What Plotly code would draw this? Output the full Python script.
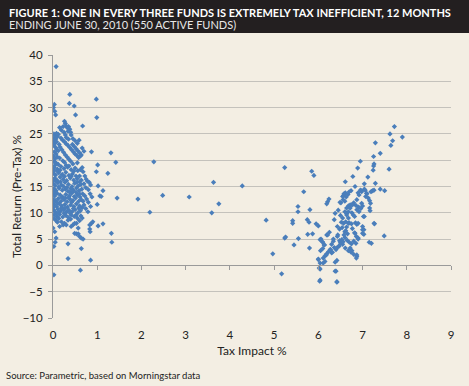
import plotly.graph_objects as go

# ---- data: (tax impact %, total return pre-tax %) ----
low_tax_impact = [
    0.07, 0.38, 0.98, 0.37, 0.48, 0.03, 0.01, 0.04, 0.06, 0.51, 0.99, 0.67,
    0.26, 0.28, 0.30, 0.23, 0.32, 0.35, 0.38, 0.15, 0.19, 0.25, 0.34, 0.40, 0.41, 0.28, 0.59,
    0.02, 0.05, 0.08, 0.03, 0.06, 0.10, 0.01, 0.04, 0.08, 0.12, 0.02, 0.06, 0.09, 0.03, 0.07,
    0.01, 0.05, 0.10, 0.02, 0.08, 0.04, 0.12, 0.14, 0.16,
    0.18, 0.22, 0.26, 0.30, 0.34, 0.38, 0.42, 0.46, 0.50, 0.54, 0.58, 0.62, 0.20, 0.24, 0.28,
    0.32, 0.36, 0.40, 0.44, 0.48, 0.52, 0.56, 0.60, 0.64, 0.30, 0.35, 0.45, 0.50, 0.55, 0.66,
    0.70, 0.87, 0.26, 0.22, 0.15, 0.45, 0.55,
    1.01, 0.98, 1.24, 1.31, 1.42, 1.02, 1.13, 1.06, 1.00, 1.45, 1.09, 0.87, 0.90, 0.83, 1.02,
    1.13, 0.83, 1.32, 1.33, 0.84,
    0.72, 0.75, 0.78, 0.82, 0.85, 0.70, 0.74, 0.80, 0.84, 0.88, 0.72, 0.76, 0.80, 0.85, 0.70,
    0.74, 0.79, 0.68, 0.66, 0.62, 0.60, 0.64,
    0.03, 0.10, 0.18, 0.25, 0.33, 0.41, 0.50, 0.56,
    0.01, 0.06, 0.13, 0.21, 0.29, 0.36, 0.44, 0.52,
    0.04, 0.09, 0.16, 0.23, 0.31, 0.39, 0.47, 0.55, 0.60,
    0.00, 0.05, 0.11, 0.19, 0.27, 0.35, 0.43, 0.49, 0.57, 0.63,
    0.02, 0.07, 0.14, 0.21, 0.28, 0.34, 0.40, 0.46, 0.53, 0.59, 0.65,
    0.01, 0.04, 0.09, 0.16, 0.22, 0.29, 0.37, 0.42, 0.48, 0.55, 0.61, 0.67,
    0.00, 0.06, 0.12, 0.18, 0.25, 0.32, 0.38, 0.45, 0.51, 0.58, 0.64,
    0.03, 0.08, 0.14, 0.20, 0.27, 0.33, 0.40, 0.47, 0.53, 0.60, 0.66,
    0.01, 0.05, 0.11, 0.17, 0.24, 0.30, 0.36, 0.43, 0.50, 0.56, 0.62,
    0.02, 0.09, 0.15, 0.22, 0.29, 0.35, 0.41, 0.48, 0.55, 0.63,
    0.06, 0.13, 0.19, 0.26, 0.30, 0.23, 0.15, 0.34, 0.40, 0.45, 0.49, 0.53, 0.41, 0.57, 0.49,
    0.53, 0.57, 0.60, 0.64, 0.68, 0.00, 0.04, 0.07, 0.05, 0.02, 0.34, 0.64, 0.34, 0.85, 0.62,
    0.02, 0.10, 0.60, 0.66,
    0.04, 0.12, 0.30, 0.36, 0.07, 0.13, 0.24, 0.31, 0.38, 0.44, 0.52, 0.20, 0.28, 0.35, 0.42,
    0.10, 0.19, 0.27, 0.33, 0.46, 0.58, 0.07, 0.12, 0.25, 0.39, 0.03, 0.52, 0.17, 0.41, 0.47,
    0.26, 0.54, 0.60, 0.68, 0.05, 0.00, 0.01, 0.02, 0.00, 0.00, 0.09, 0.16,
]
low_total_return = [
    37.8, 32.5, 31.6, 30.8, 30.3, 30.6, 30.0, 29.3, 28.6, 28.6, 28.1, 26.5,
    27.4, 27.0, 26.5, 26.4, 26.2, 26.4, 25.9, 26.2, 25.7, 25.3, 25.5, 25.3, 24.8, 24.8, 23.8,
    25.0, 24.7, 25.1, 24.3, 24.0, 24.5, 23.6, 23.2, 23.5, 24.9, 22.8, 22.4, 22.0, 21.6, 21.2,
    20.8, 20.3, 20.6, 19.8, 19.4, 19.0, 21.8, 23.0, 22.5,
    24.2, 23.8, 23.5, 23.1, 22.8, 22.4, 22.0, 21.6, 21.2, 20.9, 20.5, 20.8, 22.0, 21.5, 21.0,
    20.6, 20.2, 19.8, 23.0, 22.6, 22.2, 21.8, 21.4, 21.0, 24.3, 24.0, 24.1, 23.7, 23.2, 22.3,
    21.7, 21.6, 19.6, 19.9, 20.4, 19.3, 19.5,
    19.1, 17.8, 17.5, 21.4, 19.6, 15.1, 14.2, 13.2, 11.6, 12.8, 13.1, 8.0, 8.3, 7.7, 7.5,
    7.9, 6.9, 6.1, 4.4, 6.4,
    17.0, 16.4, 16.0, 15.8, 15.3, 15.5, 14.8, 14.4, 13.6, 13.0, 13.2, 12.6, 12.0, 11.2, 11.5,
    10.8, 10.2, 17.8, 18.6, 18.2, 17.0, 16.2,
    18.6, 18.3, 18.8, 18.4, 18.7, 18.2, 18.5, 18.0,
    17.5, 17.2, 17.6, 17.3, 17.7, 17.1, 17.4, 17.0,
    16.6, 16.2, 16.8, 16.4, 16.1, 16.6, 16.2, 16.5, 15.9,
    15.6, 15.2, 15.7, 15.3, 15.8, 15.4, 15.0, 15.6, 15.1, 15.4,
    14.6, 14.2, 14.7, 14.3, 14.5, 14.1, 14.6, 14.3, 14.7, 14.2, 14.5,
    13.6, 13.2, 13.7, 13.4, 13.0, 13.5, 13.2, 13.7, 13.1, 13.4, 13.0, 13.6,
    12.6, 12.3, 12.7, 12.2, 12.5, 12.1, 12.6, 12.3, 12.8, 12.2, 12.5,
    11.6, 11.2, 11.7, 11.3, 11.6, 11.1, 11.5, 11.2, 11.7, 11.3, 11.0,
    10.6, 10.2, 10.7, 10.3, 10.6, 10.1, 10.5, 10.2, 10.6, 10.0, 10.4,
    9.6, 9.3, 9.7, 9.2, 9.5, 9.1, 9.6, 9.3, 9.0, 9.4,
    8.6, 8.9, 8.3, 8.0, 7.7, 7.7, 7.4, 8.6, 8.8, 7.7, 8.0, 8.0, 7.4, 7.1, 6.1,
    6.0, 6.0, 5.5, 5.2, 5.0, 7.1, 6.4, 5.2, 4.4, 3.6, 4.1, 3.2, 1.3, 1.0, -0.9,
    -1.8, 8.2, 8.5, 9.0,
    19.6, 19.2, 19.0, 18.9, 16.0, 14.9, 15.0, 14.8, 13.9, 14.0, 13.9, 12.9, 12.8, 12.9, 12.0,
    11.9, 10.9, 10.9, 10.4, 10.8, 10.9, 9.9, 10.0, 9.9, 9.9, 8.9, 9.6, 15.9, 16.9, 17.9,
    16.9, 15.8, 13.6, 12.2, 13.9, 11.0, 16.2, 18.0, 14.0, 12.1, 18.0, 18.1,
]

mid_tax_impact = [2.28, 2.48, 2.19, 1.92, 3.08, 3.63, 3.75, 3.59, 4.28, 4.82, 4.97, 5.17, 5.24]
mid_total_return = [19.7, 13.3, 10.1, 12.6, 13.0, 15.8, 11.7, 10.0, 15.1, 8.6, 2.2, -1.6, 18.6]

high_tax_impact = [
    5.24, 5.26, 5.42, 5.42, 5.45, 5.54, 5.54, 5.55, 5.67, 5.75, 5.79, 5.76, 5.81, 5.80, 5.85,
    5.90, 6.61, 6.24, 6.21, 6.19, 6.55, 6.51, 6.38, 6.36, 5.95, 6.00, 5.87, 6.04, 6.10, 6.14,
    6.19, 6.25, 6.34, 6.44, 6.27, 6.30, 6.00, 6.04, 6.02, 6.11, 6.15, 6.19, 6.38, 6.38, 6.04,
    6.42, 6.40, 6.46, 6.50, 6.53, 6.60, 6.64, 6.68, 6.64, 6.68,
    7.72, 7.62, 7.68, 7.64, 7.90, 7.29, 7.40, 7.25, 6.95, 7.26, 7.25, 7.24, 6.89, 7.60, 6.78,
    7.12, 7.29, 7.04, 7.40, 7.50, 6.97, 7.04, 7.23, 7.19, 6.74, 6.61, 6.57, 6.92, 7.09, 7.13,
    7.16, 7.18, 6.49, 6.72, 6.78, 6.85, 6.98, 7.16, 7.17, 6.91, 6.87, 6.64, 6.68, 6.60, 6.76,
    6.79, 6.82, 7.02, 7.26, 6.52, 6.57, 6.62, 6.70, 6.75, 6.84, 6.87, 6.90, 6.43, 6.48, 6.54,
    6.77, 6.82, 6.86, 7.03, 7.03, 7.49, 6.43, 6.48, 6.60, 6.65, 6.70, 6.75, 6.80, 6.85, 6.90,
    6.06, 6.09, 6.13, 6.21, 7.15, 7.20, 6.27, 6.32, 6.36, 6.41, 6.47, 6.55, 6.61, 6.68, 6.74,
    6.87, 6.87, 6.18, 6.23, 6.00, 6.04, 6.15, 6.11, 6.42, 6.03, 6.40, 6.42,
    6.83, 6.95, 6.90, 6.98, 7.06, 7.10, 7.07, 7.21, 7.26, 6.87, 6.80, 6.76, 6.72, 6.68, 6.64,
    6.92, 6.96, 7.00, 7.04, 7.27, 6.83, 6.90, 6.72, 6.76, 6.80, 6.86, 7.00, 7.00, 7.00, 6.58,
    6.63, 6.67, 6.70, 6.56, 6.60, 6.45, 6.50, 6.55, 6.58, 6.62, 6.66, 6.56, 6.30, 6.34, 6.05,
    6.10,
]
high_total_return = [
    5.2, 5.4, 8.5, 8.0, 3.9, 11.2, 10.2, 5.1, 14.0, 8.7, 8.2, 5.9, 10.6, 3.3, 17.9,
    17.1, 15.9, 12.6, 12.1, 11.7, 13.1, 11.9, 9.9, 8.7, 7.9, 7.5, 6.0, 4.9, 4.4, 3.9,
    5.8, 6.3, 5.0, 5.8, 3.0, 2.4, 1.1, 0.45, -0.5, 1.4, 1.8, 2.2, 0.6, -1.1, -2.8,
    -3.1, 3.0, 3.6, 4.3, 4.9, 6.4, 7.3, 8.0, 9.9, 9.0,
    26.4, 25.0, 23.7, 22.8, 24.4, 23.3, 21.3, 20.7, 19.8, 19.3, 18.9, 18.1, 18.5, 18.3, 16.9,
    16.8, 15.6, 15.5, 14.5, 14.2, 14.2, 14.5, 14.2, 14.0, 14.2, 13.8, 13.3, 13.4, 13.7, 12.8,
    12.3, 11.8, 12.0, 11.5, 11.6, 11.4, 11.8, 10.9, 10.4, 11.1, 10.6, 10.9, 11.3, 10.2, 10.0,
    9.6, 9.3, 9.3, 8.0, 8.2, 8.0, 8.3, 8.1, 7.9, 8.1, 7.8, 8.0, 7.4, 6.9, 7.2,
    7.0, 6.2, 5.5, 6.8, 5.9, 5.6, 5.5, 4.7, 5.3, 4.8, 4.4, 4.1, 4.6, 4.2, 5.0,
    5.0, 4.5, 3.9, 5.8, 4.4, 4.2, 3.0, 2.5, 3.4, 3.3, 3.7, 4.0, 3.3, 2.8, 2.5,
    2.0, 1.7, 2.0, 2.6, 1.2, -0.7, 0.76, 0.45, 0.95, -3.0, -1.1, -3.2,
    15.0, 14.3, 13.8, 14.0, 14.3, 13.6, 13.1, 14.1, 14.3, 12.5, 11.9, 11.5, 10.9, 10.2, 9.6,
    10.2, 10.8, 11.3, 9.3, 7.9, 6.1, 5.2, 3.3, 2.8, 2.1, 1.4, 7.4, 6.8, 6.1, 13.6,
    13.0, 13.5, 14.0, 12.5, 12.2, 10.5, 9.5, 9.0, 5.8, 6.6, 6.0, 4.5, 4.0, 4.6, 2.8,
    3.2,
]

x_ticks = [0, 1, 2, 3, 4, 5, 6, 7, 8, 9]
y_ticks = [-10, -5, 0, 5, 10, 15, 20, 25, 30, 35, 40]

title_line1 = "FIGURE 1: ONE IN EVERY THREE FUNDS IS EXTREMELY TAX INEFFICIENT, 12 MONTHS"
title_line2 = "ENDING JUNE 30, 2010 (550 ACTIVE FUNDS)"
x_title = "Tax Impact %"
y_title = "Total Return (Pre-Tax) %"
source_text = "Source: Parametric, based on Morningstar data"

BG = "#F3EEE3"
BLUE = "#4A7EBB"
FONT = "Lato"

W, H = 469, 386
ML, MR, MT, MB = 53, 18, 55, 68
PW = W - ML - MR
PH = H - MT - MB

fig = go.Figure()
for xs, ys in [(low_tax_impact, low_total_return),
               (mid_tax_impact, mid_total_return),
               (high_tax_impact, high_total_return)]:
    fig.add_trace(go.Scatter(
        x=xs, y=ys, mode="markers",
        marker=dict(symbol="diamond", size=4, color=BLUE, line=dict(width=0)),
        showlegend=False, hoverinfo="skip"))

# empty trace to realise the zero-crossing x axis
fig.add_trace(go.Scatter(x=[], y=[], xaxis="x2", yaxis="y", showlegend=False))

def px_to_paper_x(px):
    return (px - ML) / PW

def py_to_paper_y(py):
    return (H - MB - py) / PH

fig.update_layout(
    width=W, height=H,
    margin=dict(l=ML, r=MR, t=MT, b=MB, autoexpand=False),
    paper_bgcolor=BG, plot_bgcolor=BG,
    font=dict(family=FONT, size=11, color="#333333"),
    xaxis=dict(range=[0, 9], tickvals=x_ticks, showgrid=False, zeroline=False,
               showline=False, ticks="", ticklabelstandoff=8, automargin=False,
               tickfont=dict(size=11.5, color="#222222"),
               title=dict(text=x_title, font=dict(size=12, color="#222222"), standoff=7)),
    xaxis2=dict(range=[0, 9], overlaying="x", anchor="free", position=0.2,
                tickvals=x_ticks[1:], showticklabels=False, showgrid=False, zeroline=False,
                showline=True, linecolor="#9A9A9A", linewidth=1, automargin=False,
                ticks="outside", ticklen=4, tickcolor="#9A9A9A"),
    yaxis=dict(range=[-10, 40], tickvals=y_ticks, showgrid=True, gridcolor="#C4C2BC",
               gridwidth=1, zeroline=False, showline=True, linecolor="#9A9A9A",
               ticks="outside", ticklen=4, tickcolor="#9A9A9A", ticklabelstandoff=3,
               automargin=False, tickfont=dict(size=11.5, color="#222222")),
    shapes=[dict(type="rect", xref="paper", yref="paper",
                 x0=px_to_paper_x(-2), x1=px_to_paper_x(W + 2),
                 y0=py_to_paper_y(33), y1=py_to_paper_y(-2),
                 fillcolor="#231F20", line=dict(width=0), layer="above")],
    annotations=[
        dict(text="<b>" + title_line1 + "</b>", xref="paper", yref="paper",
             x=px_to_paper_x(7), y=py_to_paper_y(12), xanchor="left", yanchor="middle",
             showarrow=False, font=dict(family=FONT, size=11, color="white")),
        dict(text=title_line2, xref="paper", yref="paper",
             x=px_to_paper_x(7), y=py_to_paper_y(25), xanchor="left", yanchor="middle",
             showarrow=False, font=dict(family=FONT, size=11, color="#E8E8E8")),
        dict(text=y_title, xref="paper", yref="paper", textangle=-90,
             x=px_to_paper_x(16), y=py_to_paper_y(197), xanchor="center", yanchor="middle",
             showarrow=False, font=dict(family=FONT, size=11.8, color="#222222")),
        dict(text=source_text, xref="paper", yref="paper",
             x=px_to_paper_x(4), y=py_to_paper_y(375), xanchor="left", yanchor="middle",
             showarrow=False, font=dict(family=FONT, size=9.5, color="#222222")),
    ],
)

fig.write_html("out.html", config={"displayModeBar": False},
               post_script="document.body.style.margin='0';document.body.style.padding='0';")
